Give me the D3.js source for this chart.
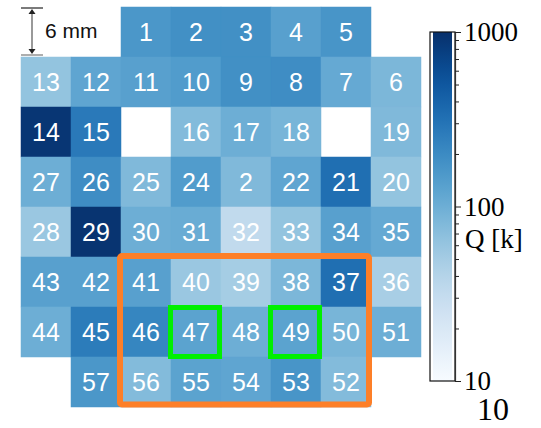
<!DOCTYPE html>
<html>
<head>
<meta charset="utf-8">
<script src="https://cdn.jsdelivr.net/npm/d3@7"></script>
<style>
  html, body { margin: 0; padding: 0; background: #fff; }
  svg { display: block; }
</style>
</head>
<body>
<svg id="chart" width="541" height="428"></svg>
<script>
// ---- data ----
const cellLabels = [
  [null, null, "1", "2", "3", "4", "5", null],
  ["13", "12", "11", "10", "9", "8", "7", "6"],
  ["14", "15", null, "16", "17", "18", null, "19"],
  ["27", "26", "25", "24", "2", "22", "21", "20"],
  ["28", "29", "30", "31", "32", "33", "34", "35"],
  ["43", "42", "41", "40", "39", "38", "37", "36"],
  ["44", "45", "46", "47", "48", "49", "50", "51"],
  [null, "57", "56", "55", "54", "53", "52", null]
];
// Q [k] per cell
const cellValues = [
  [null, null, 158, 182, 182, 132, 166, null],
  [63, 120, 132, 145, 182, 191, 110, 83],
  [900, 275, null, 76, 100, 87, null, 79],
  [100, 191, 79, 145, 79, 120, 331, 63],
  [58, 930, 100, 105, 33, 63, 132, 110],
  [132, 132, 132, 58, 50, 83, 331, 48],
  [100, 263, 219, 126, 100, 126, 87, 100],
  [null, 158, 76, 126, 120, 166, 76, null]
];
const colorDomain = [10, 1000];
const majorTicks = [10, 100, 1000];
const minorTicks = [20, 30, 40, 50, 60, 70, 80, 90, 200, 300, 400, 500, 600, 700, 800, 900];
const colorbarLabel = "Q [k]";
const scaleBarText = "6 mm";
const orangeRegion = { c0: 2, c1: 6, r0: 5, r1: 7 };
const greenCells = [{ c: 3, r: 6 }, { c: 5, r: 6 }];
const extraLabel = "10";

// ---- drawing ----
const svg = d3.select("#chart");
const nCols = 8, nRows = 8;
const gx = 21, gy = 7, cell = 50;

const x = d3.scaleBand().domain(d3.range(nCols)).range([gx, gx + nCols * cell]).padding(0);
const y = d3.scaleBand().domain(d3.range(nRows)).range([gy, gy + nRows * cell]).padding(0);
const color = d3.scaleSequentialLog(d3.interpolateBlues).domain(colorDomain);

const cells = [];
cellLabels.forEach((row, r) => row.forEach((lab, c) => {
  if (lab !== null) cells.push({ r, c, lab, v: cellValues[r][c] });
}));

const g = svg.append("g");
g.selectAll("rect.cell").data(cells).join("rect")
  .attr("class", "cell")
  .attr("x", d => x(d.c)).attr("y", d => y(d.r))
  .attr("width", x.bandwidth()).attr("height", y.bandwidth())
  .attr("fill", d => color(d.v))
  .attr("stroke", d => color(d.v)).attr("stroke-width", 0.5);

g.selectAll("text.lab").data(cells).join("text")
  .attr("class", "lab")
  .attr("x", d => x(d.c) + cell / 2)
  .attr("y", d => y(d.r) + cell / 2)
  .attr("dy", "0.36em")
  .attr("text-anchor", "middle")
  .attr("fill", "#fff")
  .style("font-family", "'Liberation Sans', Arial, sans-serif")
  .style("font-size", "25px")
  .text(d => d.lab);

// orange region
svg.append("rect")
  .attr("x", x(orangeRegion.c0) - 1)
  .attr("y", y(orangeRegion.r0) - 1)
  .attr("width", x(orangeRegion.c1) + cell - x(orangeRegion.c0) - 1)
  .attr("height", y(orangeRegion.r1) + cell - y(orangeRegion.r0) - 1.5)
  .attr("rx", 2)
  .attr("fill", "none")
  .attr("stroke", "#fd7f28")
  .attr("stroke-width", 6);

// green cells
svg.selectAll("rect.green").data(greenCells).join("rect")
  .attr("class", "green")
  .attr("x", d => x(d.c) - 0.5)
  .attr("y", d => y(d.r) + 0.5)
  .attr("width", cell - 1)
  .attr("height", cell - 1)
  .attr("fill", "none")
  .attr("stroke", "#00f000")
  .attr("stroke-width", 5);

// scale bar
const sb = svg.append("g");
const sbTop = 8, sbBot = 55, sbX = 32;
sb.append("line").attr("x1", 21).attr("x2", 43).attr("y1", sbTop).attr("y2", sbTop)
  .attr("stroke", "#222").attr("stroke-width", 1.2);
sb.append("line").attr("x1", 21).attr("x2", 43).attr("y1", sbBot).attr("y2", sbBot)
  .attr("stroke", "#777").attr("stroke-width", 1.2);
sb.append("line").attr("x1", sbX).attr("x2", sbX).attr("y1", sbTop + 3).attr("y2", sbBot - 3)
  .attr("stroke", "#777").attr("stroke-width", 1.5);
sb.append("path").attr("d", `M${sbX},${sbTop + 1} L${sbX - 3.5},${sbTop + 6} L${sbX + 3.5},${sbTop + 6} Z`).attr("fill", "#222");
sb.append("path").attr("d", `M${sbX},${sbBot - 1} L${sbX - 3.5},${sbBot - 6} L${sbX + 3.5},${sbBot - 6} Z`).attr("fill", "#222");
sb.append("text").attr("x", 45).attr("y", 38)
  .style("font-family", "'Liberation Sans', Arial, sans-serif")
  .style("font-size", "21px").attr("fill", "#111")
  .text(scaleBarText);

// colorbar
const cbTop = 32, cbBot = 381, cbX0 = 430, cbX1 = 455;
const cbScale = d3.scaleLog().domain(colorDomain).range([cbBot, cbTop]);
const defs = svg.append("defs");
const grad = defs.append("linearGradient").attr("id", "cbgrad")
  .attr("x1", 0).attr("y1", 1).attr("x2", 0).attr("y2", 0);
d3.range(0, 1.0001, 0.05).forEach(t => {
  grad.append("stop").attr("offset", t).attr("stop-color", d3.interpolateBlues(t));
});
svg.append("rect").attr("x", cbX0 + 3).attr("y", cbTop).attr("width", cbX1 - cbX0 - 6)
  .attr("height", cbBot - cbTop).attr("fill", "url(#cbgrad)");
svg.append("rect").attr("x", cbX0).attr("y", cbTop).attr("width", cbX1 - cbX0)
  .attr("height", cbBot - cbTop).attr("fill", "none").attr("stroke", "#111").attr("stroke-width", 1.2);

const axMajor = svg.append("g").attr("transform", `translate(${cbX1},0)`)
  .call(d3.axisRight(cbScale).tickValues(majorTicks).tickSize(6).tickPadding(3)
    .tickFormat(d3.format("d")));
axMajor.select(".domain").attr("stroke", "#333").attr("stroke-width", 1.2);
axMajor.selectAll(".tick line").attr("stroke", "#222");
axMajor.selectAll(".tick text")
  .style("font-family", "'Liberation Serif', 'Times New Roman', serif")
  .style("font-size", "27px").attr("fill", "#000");

const axMinor = svg.append("g").attr("transform", `translate(${cbX1},0)`)
  .call(d3.axisRight(cbScale).tickValues(minorTicks).tickSize(4).tickFormat(""));
axMinor.select(".domain").remove();
axMinor.selectAll(".tick line").attr("stroke", "#222");

svg.append("text").attr("x", 465).attr("y", 248)
  .style("font-family", "'Liberation Serif', 'Times New Roman', serif")
  .style("font-size", "27px").attr("fill", "#000")
  .text(colorbarLabel);

svg.append("text").attr("x", 477).attr("y", 420)
  .style("font-family", "'Liberation Serif', 'Times New Roman', serif")
  .style("font-size", "32px").attr("fill", "#000")
  .text(extraLabel);
</script>
</body>
</html>
